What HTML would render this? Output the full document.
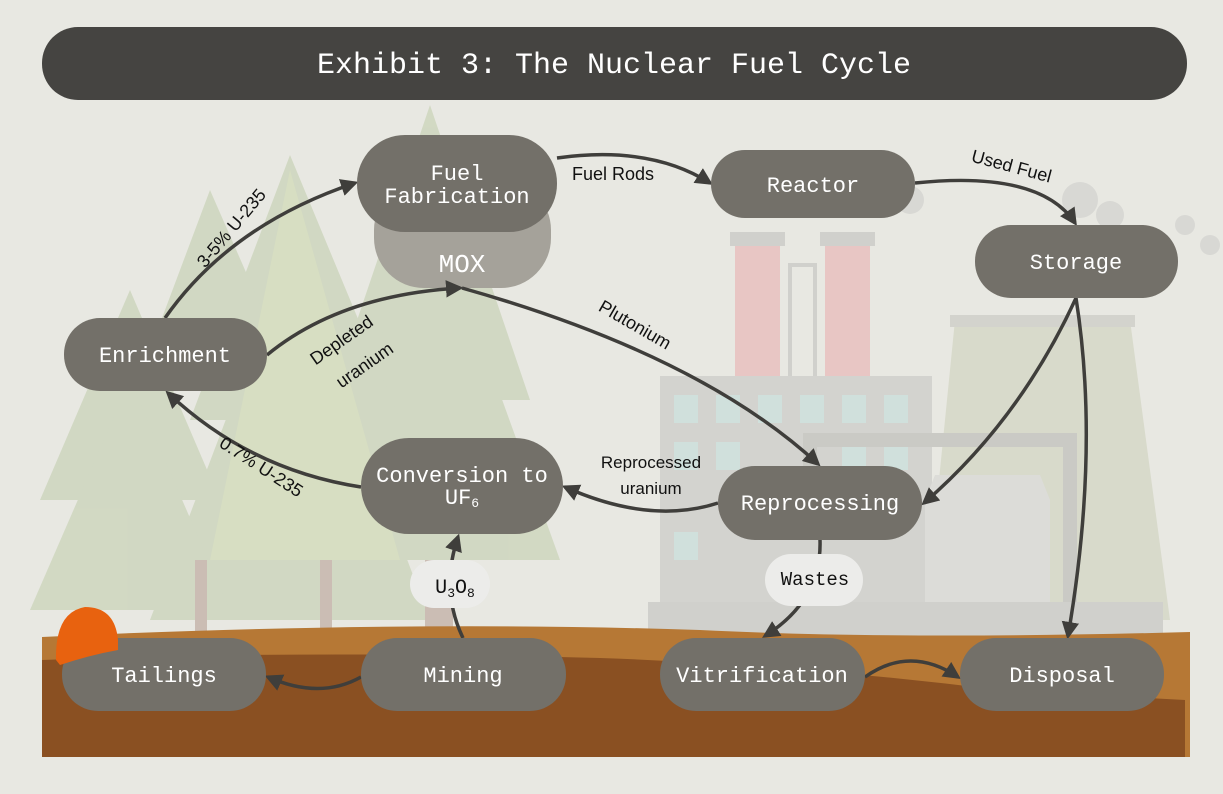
<!DOCTYPE html>
<html><head><meta charset="utf-8"><style>
html,body{margin:0;padding:0;background:#e8e8e2;}
svg{display:block;}
.n{fill:#737069;}
.t{font-family:"Liberation Mono",monospace;font-size:22px;fill:#fff;text-anchor:middle;}
.l{font-family:"Liberation Sans",sans-serif;font-size:18px;fill:#111;text-anchor:middle;}
.e{fill:none;stroke:#3f3e3b;stroke-width:3.5;marker-end:url(#a);}
</style></head><body>
<svg width="1223" height="794" viewBox="0 0 1223 794" xmlns="http://www.w3.org/2000/svg">
<defs><marker id="a" viewBox="0 0 10 10" refX="8" refY="5" markerWidth="5" markerHeight="5" orient="auto"><path d="M0,0 L10,5 L0,10 z" fill="#3f3e3b"/></marker></defs>
<rect width="1223" height="794" fill="#e8e8e2"/>
<!-- trees -->
<g fill="#cfd7c0" opacity="0.9">
<polygon points="430,105 330,400 530,400"/>
<polygon points="430,200 300,560 560,560"/>
<polygon points="290,155 190,420 400,420"/>
<polygon points="290,250 150,620 430,620"/>
<polygon points="130,290 40,500 220,500"/>
<polygon points="130,380 30,610 230,610"/>
<polygon points="210,190 150,350 280,350"/>
</g>
<g fill="#d8e0c2" opacity="0.8"><polygon points="290,170 210,560 400,560"/></g>
<rect x="320" y="560" width="12" height="80" fill="#cbbdb4"/>
<rect x="195" y="560" width="12" height="80" fill="#cbbdb4"/>
<rect x="425" y="560" width="28" height="80" fill="#cbbdb4"/>
<!-- factory -->
<g>
<polygon points="955,320 1130,320 1170,620 925,620" fill="#d8dacb"/>
<rect x="950" y="315" width="185" height="12" fill="#d3d3cd"/>
<rect x="735" y="245" width="45" height="140" fill="#e8c6c4"/>
<rect x="825" y="245" width="45" height="140" fill="#e8c6c4"/>
<rect x="730" y="232" width="55" height="14" fill="#d0d0cc"/>
<rect x="820" y="232" width="55" height="14" fill="#d0d0cc"/>
<rect x="790" y="265" width="25" height="120" fill="none" stroke="#d0d0cc" stroke-width="4"/>
<rect x="660" y="376" width="272" height="230" fill="#d3d3cf"/>
<g fill="#d0e0dc">
<rect x="674" y="395" width="24" height="28"/><rect x="716" y="395" width="24" height="28"/><rect x="758" y="395" width="24" height="28"/><rect x="800" y="395" width="24" height="28"/><rect x="842" y="395" width="24" height="28"/><rect x="884" y="395" width="24" height="28"/>
<rect x="674" y="442" width="24" height="28"/><rect x="716" y="442" width="24" height="28"/><rect x="842" y="442" width="24" height="28"/><rect x="884" y="442" width="24" height="28"/>
<rect x="674" y="532" width="24" height="28"/>
</g>
<path d="M810,470 V440 H1070 V620" fill="none" stroke="#cacac5" stroke-width="14"/>
<polygon points="935,475 1040,475 1050,500 1050,620 925,620 925,500" fill="#dcdcd8"/>
<rect x="648" y="602" width="515" height="35" fill="#d0d0cc"/>
<g fill="#d8d8d4"><circle cx="1080" cy="200" r="18"/><circle cx="1110" cy="215" r="14"/><circle cx="1185" cy="225" r="10"/><circle cx="1210" cy="245" r="10"/><circle cx="910" cy="200" r="14"/></g>
</g>
<!-- ground -->
<path d="M42,637 Q400,620 700,630 Q900,640 1190,632 L1190,757 L42,757 Z" fill="#b67835"/>
<path d="M42,660 Q300,650 600,658 Q800,665 1000,690 L1185,700 L1185,757 L42,757 Z" fill="#8a5022"/>
<!-- title -->
<rect x="42" y="27" width="1145" height="73" rx="36" fill="#454441"/>
<text x="614" y="73" font-family="Liberation Mono,monospace" font-size="30" fill="#fff" text-anchor="middle">Exhibit 3: The Nuclear Fuel Cycle</text>
<!-- MOX -->
<rect x="374" y="180" width="177" height="108" rx="50" fill="#a5a29a"/>
<text x="462" y="272" class="t" style="font-size:26px">MOX</text>
<!-- edges -->
<path class="e" d="M165,318 Q230,225 355,183"/>
<path class="e" d="M267,355 Q340,295 460,288"/>
<path class="e" d="M462,288 Q700,355 818,464"/>
<path class="e" d="M361,487 Q250,470 168,393"/>
<path class="e" d="M463,638 Q440,590 458,537"/>
<path class="e" d="M361,677 Q320,700 268,677"/>
<path class="e" d="M718,503 Q650,525 565,487"/>
<path class="e" d="M557,158 Q650,145 710,183"/>
<path class="e" d="M915,183 Q1040,170 1075,223"/>
<path class="e" d="M1076,298 Q1020,420 924,503"/>
<path class="e" d="M1076,298 Q1100,450 1068,636"/>
<path class="e" d="M820,540 Q822,600 765,636"/>
<path class="e" d="M865,677 Q910,645 958,677"/>
<!-- label pills -->
<rect x="410" y="560" width="80" height="48" rx="24" fill="#ececea"/>
<text x="455" y="593" class="l" style="font-size:20px;font-family:Liberation Mono,monospace">U<tspan font-size="13" dy="4">3</tspan><tspan dy="-4">O</tspan><tspan font-size="13" dy="4">8</tspan></text>
<rect x="765" y="554" width="98" height="52" rx="26" fill="#ececea"/>
<text x="815" y="585" class="l" style="font-family:Liberation Mono,monospace;font-size:19px">Wastes</text>
<!-- nodes -->
<rect class="n" x="357" y="135" width="200" height="97" rx="48"/>
<text class="t" x="457" y="180">Fuel</text><text class="t" x="457" y="203">Fabrication</text>
<rect class="n" x="711" y="150" width="204" height="68" rx="34"/><text class="t" x="813" y="192">Reactor</text>
<rect class="n" x="975" y="225" width="203" height="73" rx="36"/><text class="t" x="1076" y="269">Storage</text>
<rect class="n" x="64" y="318" width="203" height="73" rx="36"/><text class="t" x="165" y="362">Enrichment</text>
<rect class="n" x="361" y="438" width="202" height="96" rx="48"/>
<text class="t" x="462" y="482">Conversion to</text><text class="t" x="462" y="504">UF<tspan font-size="13" dy="3">6</tspan></text>
<rect class="n" x="718" y="466" width="204" height="74" rx="37"/><text class="t" x="820" y="510">Reprocessing</text>
<rect class="n" x="62" y="638" width="204" height="73" rx="36"/><text class="t" x="164" y="682">Tailings</text>
<rect class="n" x="361" y="638" width="205" height="73" rx="36"/><text class="t" x="463" y="682">Mining</text>
<rect class="n" x="660" y="638" width="205" height="73" rx="36"/><text class="t" x="762" y="682">Vitrification</text>
<rect class="n" x="960" y="638" width="204" height="73" rx="36"/><text class="t" x="1062" y="682">Disposal</text>
<!-- hat -->
<path d="M56,660 Q55,612 85,607 Q115,607 118,640 L118,650 Q90,655 60,665 Z" fill="#e8620f"/>
<!-- labels -->
<text class="l" x="613" y="180">Fuel Rods</text>
<text class="l" transform="translate(1010,172) rotate(15)">Used Fuel</text>
<text class="l" transform="translate(632,330) rotate(30)">Plutonium</text>
<text class="l" style="font-size:17px" x="651" y="468">Reprocessed</text>
<text class="l" style="font-size:17px" x="651" y="494">uranium</text>
<text class="l" transform="translate(236,232) rotate(-50)">3-5% U-235</text>
<text class="l" transform="translate(345,345) rotate(-35)">Depleted</text>
<text class="l" transform="translate(368,370) rotate(-35)">uranium</text>
<text class="l" transform="translate(258,472) rotate(33)">0.7% U-235</text>
</svg>
</body></html>
